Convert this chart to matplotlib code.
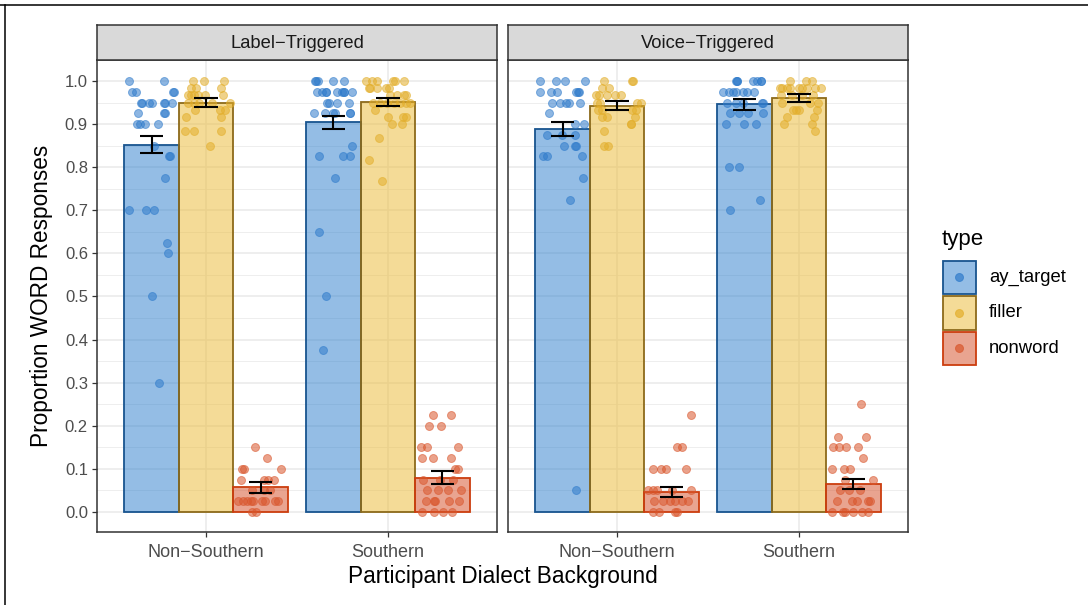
import matplotlib
matplotlib.use("Agg")
import matplotlib.pyplot as plt
from matplotlib.patches import Rectangle
from matplotlib.lines import Line2D

plt.rcParams['font.family'] = ['Liberation Sans', 'DejaVu Sans']

# ---------------------------------------------------------------- data
panels = ["Label−Triggered", "Voice−Triggered"]
dialects = ["Non−Southern", "Southern"]
types = ["ay_target", "filler", "nonword"]
y_ticks = [0.0, 0.1, 0.2, 0.3, 0.4, 0.5, 0.6, 0.7, 0.8, 0.9, 1.0]

# group means (ay_target, filler, nonword) and standard errors
label_ns_mean = [0.852, 0.950, 0.057]
label_ns_se = [0.0195, 0.010, 0.0128]
label_s_mean = [0.904, 0.952, 0.080]
label_s_se = [0.0155, 0.009, 0.014]
voice_ns_mean = [0.889, 0.943, 0.047]
voice_ns_se = [0.017, 0.0105, 0.0117]
voice_s_mean = [0.946, 0.960, 0.065]
voice_s_se = [0.0124, 0.0098, 0.0124]

# participant proportions as (value, horizontal jitter in x units)
label_ns_target = [
    (1.0, -0.126), (1.0, 0.068),
    (0.975, -0.106), (0.975, -0.087), (0.975, 0.122), (0.975, 0.118),
    (0.95, -0.058), (0.95, -0.053), (0.95, -0.014), (0.95, 0.002),
    (0.95, 0.070), (0.95, 0.074), (0.95, 0.111),
    (0.925, -0.073), (0.925, 0.074), (0.925, 0.071),
    (0.9, -0.082), (0.9, -0.064), (0.9, -0.035), (0.9, 0.037),
    (0.85, 0.013), (0.825, 0.101), (0.825, 0.098), (0.775, 0.072),
    (0.7, -0.126), (0.7, -0.031), (0.7, 0.015),
    (0.625, 0.086), (0.6, 0.089), (0.5, 0.001), (0.3, 0.041),
]
label_ns_filler = [
    (1.0, -0.074), (1.0, -0.010), (1.0, 0.100),
    (0.983, -0.085), (0.983, -0.056), (0.983, 0.084),
    (0.967, -0.101), (0.967, -0.083), (0.967, -0.065), (0.967, -0.046),
    (0.967, -0.006), (0.967, 0.091),
    (0.95, -0.101), (0.95, -0.067), (0.95, -0.039), (0.95, 0.031), (0.95, 0.131),
    (0.933, -0.061), (0.933, 0.078), (0.933, 0.104),
    (0.917, -0.112), (0.917, 0.080),
    (0.883, -0.116), (0.883, -0.068), (0.883, 0.080),
    (0.85, 0.020),
]
label_ns_nonword = [
    (0.15, -0.031), (0.125, 0.035),
    (0.1, -0.101), (0.1, -0.092), (0.1, 0.110),
    (0.075, -0.107), (0.075, 0.020), (0.075, 0.039), (0.075, 0.075),
    (0.05, -0.050), (0.05, 0.020), (0.05, 0.051),
    (0.025, -0.127), (0.025, -0.096), (0.025, -0.077), (0.025, -0.055),
    (0.025, -0.041), (0.025, 0.006), (0.025, 0.024), (0.025, 0.079),
    (0.025, 0.097),
    (0.0, -0.050), (0.0, -0.028),
]
label_s_target = [
    (1.0, -0.101), (1.0, -0.098), (1.0, -0.083), (1.0, 0.0), (1.0, 0.060),
    (0.975, -0.089), (0.975, -0.064), (0.975, -0.041), (0.975, -0.038),
    (0.975, 0.018), (0.975, 0.046), (0.975, 0.060), (0.975, 0.057),
    (0.975, 0.101),
    (0.95, -0.037), (0.95, -0.024), (0.95, 0.018), (0.95, 0.086),
    (0.925, -0.105), (0.925, -0.046), (0.925, -0.004), (0.925, 0.009),
    (0.925, 0.091), (0.925, 0.094),
    (0.85, 0.104),
    (0.825, -0.079), (0.825, 0.054), (0.825, 0.093),
    (0.775, 0.009), (0.65, -0.079), (0.5, -0.041), (0.375, -0.056),
]
label_s_filler = [
    (1.0, -0.120), (1.0, -0.089), (1.0, -0.062), (1.0, 0.026), (1.0, 0.039),
    (1.0, 0.089),
    (0.983, -0.104), (0.983, -0.101), (0.983, -0.062), (0.983, -0.010),
    (0.983, 0.008),
    (0.967, 0.012), (0.967, 0.048), (0.967, 0.089), (0.967, 0.100),
    (0.95, -0.080), (0.95, -0.043), (0.95, -0.007), (0.95, 0.035),
    (0.95, 0.067), (0.95, 0.100), (0.95, 0.122),
    (0.933, -0.069),
    (0.917, 0.002), (0.917, 0.085), (0.917, 0.100),
    (0.9, 0.021), (0.9, 0.076),
    (0.867, -0.047), (0.817, -0.102), (0.767, -0.034),
]
label_s_nonword = [
    (0.225, -0.051), (0.225, 0.047),
    (0.2, -0.074), (0.2, -0.010),
    (0.15, -0.120), (0.15, -0.084), (0.15, 0.084),
    (0.125, -0.111), (0.125, -0.051), (0.125, 0.047),
    (0.1, 0.069), (0.1, 0.087),
    (0.075, -0.106), (0.075, -0.014), (0.075, 0.059),
    (0.05, -0.087), (0.05, -0.023), (0.05, 0.032), (0.05, 0.102),
    (0.025, -0.092), (0.025, -0.041), (0.025, -0.044), (0.025, 0.037),
    (0.025, 0.091),
    (0.0, -0.111), (0.0, -0.047), (0.0, 0.004), (0.0, 0.054),
]
voice_ns_target = [
    (1.0, -0.126), (1.0, -0.036), (1.0, 0.012), (1.0, 0.122),
    (0.975, -0.126), (0.975, -0.064), (0.975, -0.031), (0.975, 0.074),
    (0.975, 0.086), (0.975, 0.089),
    (0.95, -0.057), (0.95, -0.014), (0.95, 0.017), (0.95, 0.035), (0.95, 0.097),
    (0.925, -0.073),
    (0.9, 0.068), (0.9, 0.119),
    (0.875, -0.086), (0.875, -0.005), (0.875, 0.070),
    (0.85, 0.006), (0.85, 0.068), (0.85, 0.074),
    (0.825, -0.106), (0.825, -0.087), (0.825, 0.107),
    (0.775, 0.111), (0.725, 0.041), (0.05, 0.074),
]
voice_ns_filler = [
    (1.0, -0.072), (1.0, 0.080), (1.0, 0.086),
    (0.983, -0.085), (0.983, -0.043),
    (0.967, -0.118), (0.967, -0.100), (0.967, -0.057), (0.967, -0.012),
    (0.967, 0.020),
    (0.95, -0.112), (0.95, -0.094), (0.95, 0.108), (0.95, 0.131),
    (0.933, -0.103), (0.933, -0.085), (0.933, 0.084), (0.933, 0.104),
    (0.917, -0.081), (0.917, -0.057), (0.917, 0.098),
    (0.9, 0.076), (0.9, 0.078),
    (0.883, -0.070),
    (0.85, -0.072), (0.85, -0.048),
]
voice_ns_nonword = [
    (0.225, 0.106),
    (0.15, 0.028), (0.15, 0.055),
    (0.1, -0.105), (0.1, -0.059), (0.1, -0.031), (0.1, 0.079),
    (0.05, -0.130), (0.05, -0.103), (0.05, -0.083), (0.05, 0.0), (0.05, 0.105),
    (0.025, -0.097), (0.025, -0.048), (0.025, -0.009), (0.025, 0.018),
    (0.025, 0.055), (0.025, 0.091),
    (0.0, -0.103), (0.0, -0.070), (0.0, 0.018), (0.0, 0.028),
]
voice_s_target = [
    (1.0, -0.046), (1.0, -0.043), (1.0, -0.039), (1.0, 0.046), (1.0, 0.068),
    (1.0, 0.091), (1.0, 0.094),
    (0.975, -0.119), (0.975, -0.083), (0.975, -0.061), (0.975, -0.046),
    (0.975, -0.009), (0.975, 0.013), (0.975, 0.053),
    (0.95, -0.097), (0.95, -0.046), (0.95, -0.006), (0.95, 0.095), (0.95, 0.104),
    (0.925, -0.079), (0.925, -0.028), (0.925, 0.018), (0.925, 0.104),
    (0.9, -0.103), (0.9, -0.001), (0.9, 0.062),
    (0.8, -0.085), (0.8, -0.028), (0.725, 0.086), (0.7, -0.079),
]
voice_s_filler = [
    (1.0, -0.049), (1.0, 0.039), (1.0, 0.074),
    (0.983, -0.104), (0.983, -0.095), (0.983, -0.067), (0.983, -0.049),
    (0.983, 0.002), (0.983, 0.015), (0.983, 0.043), (0.983, 0.089),
    (0.983, 0.120),
    (0.967, -0.100), (0.967, -0.040), (0.967, 0.015), (0.967, 0.079),
    (0.95, -0.095), (0.95, 0.061), (0.95, 0.103),
    (0.933, -0.034), (0.933, -0.016), (0.933, 0.002), (0.933, 0.098),
    (0.917, -0.064), (0.917, 0.085),
    (0.9, -0.082), (0.9, 0.070),
    (0.883, 0.090),
]
voice_s_nonword = [
    (0.25, 0.043),
    (0.175, -0.084), (0.175, 0.069),
    (0.15, -0.111), (0.15, -0.078), (0.15, -0.041), (0.15, 0.026),
    (0.125, 0.054),
    (0.1, -0.120), (0.1, -0.052), (0.1, -0.019),
    (0.075, -0.047), (0.075, 0.106),
    (0.05, -0.074), (0.05, -0.025), (0.05, 0.036),
    (0.025, -0.092), (0.025, -0.010), (0.025, 0.018), (0.025, 0.081),
    (0.025, 0.091),
    (0.0, -0.120), (0.0, -0.056), (0.0, -0.047), (0.0, -0.001), (0.0, 0.045),
    (0.0, 0.081),
]

# ---------------------------------------------------------------- style
fill_colors = ["#2A7DCD", "#EBB931", "#D54B23"]
edge_colors = ["#18548F", "#8C6A1A", "#CC3D0E"]
point_colors = ["#2F7BCB", "#E3AE2A", "#D9562C"]
bar_alpha = 0.5
point_alpha = 0.55
point_size = 33
grid_color = "#EBEBEB"
dark = "#333333"

panel_data = [
    ([label_ns_mean, label_s_mean], [label_ns_se, label_s_se],
     [[label_ns_target, label_ns_filler, label_ns_nonword],
      [label_s_target, label_s_filler, label_s_nonword]]),
    ([voice_ns_mean, voice_s_mean], [voice_ns_se, voice_s_se],
     [[voice_ns_target, voice_ns_filler, voice_ns_nonword],
      [voice_s_target, voice_s_filler, voice_s_nonword]]),
]

W, H = 1088, 605
fig = plt.figure(figsize=(W / 100, H / 100), dpi=100)
fig.patch.set_facecolor("white")


def box(x0, y0, x1, y1):
    """Pixel box (top-left origin) to figure fraction rectangle."""
    return [x0 / W, 1 - y1 / H, (x1 - x0) / W, (y1 - y0) / H]


# thin outer frame along the top and left edges
fig.add_artist(Line2D([0, 1], [1 - 4.5 / H, 1 - 4.5 / H], color="black",
                      lw=1.1, transform=fig.transFigure))
fig.add_artist(Line2D([4.5 / W, 4.5 / W], [0, 1 - 4.5 / H], color="black",
                      lw=1.1, transform=fig.transFigure))

panel_x = [(97, 497), (508, 908)]
panel_top, panel_bottom, strip_top = 60, 532, 25
dodge = 0.3

for p, (x0, x1) in enumerate(panel_x):
    ax = fig.add_axes(box(x0, panel_top, x1, panel_bottom))
    ax.set_xlim(0.4, 2.6)
    ax.set_ylim(-0.0464, 1.0487)
    ax.set_facecolor("white")

    # grid
    for v in [0.05 + 0.1 * i for i in range(10)]:
        ax.axhline(v, color=grid_color, lw=0.6, zorder=0)
    for v in y_ticks:
        ax.axhline(v, color=grid_color, lw=1.2, zorder=0)
    for xv in (1, 2):
        ax.axvline(xv, color=grid_color, lw=1.2, zorder=0)

    means, ses, pts = panel_data[p]
    for d in range(len(dialects)):
        for t in range(len(types)):
            xc = d + 1 + (t - 1) * dodge
            ax.bar(xc, means[d][t], width=dodge, color=fill_colors[t],
                   alpha=bar_alpha, zorder=2, lw=0)
            ax.bar(xc, means[d][t], width=dodge, facecolor="none",
                   edgecolor=edge_colors[t], lw=1.3, zorder=2.5)
            vals = [v for v, _ in pts[d][t]]
            xs = [xc + dx for _, dx in pts[d][t]]
            ax.scatter(xs, vals, s=point_size, facecolor=point_colors[t],
                       edgecolor=point_colors[t], linewidths=0.7,
                       alpha=point_alpha, zorder=3)
            m, se = means[d][t], ses[d][t]
            ax.vlines(xc, m - se, m + se, color="black", lw=1.5, zorder=4)
            ax.hlines([m - se, m + se], xc - 0.065, xc + 0.065,
                      color="black", lw=1.5, zorder=4)

    ax.set_xticks([1, 2])
    ax.set_xticklabels(dialects, fontsize=13, color="#4D4D4D")
    ax.set_yticks(y_ticks)
    if p == 0:
        ax.set_yticklabels([f"{v:.1f}" for v in y_ticks], fontsize=12,
                           color="#4D4D4D")
        ax.tick_params(axis="y", length=3.5, width=0.9, color=dark, pad=3)
    else:
        ax.tick_params(axis="y", length=0, labelleft=False)
    ax.tick_params(axis="x", length=3.5, width=0.9, color=dark, pad=5)
    for s in ax.spines.values():
        s.set_color(dark)
        s.set_linewidth(1.1)

    # facet strip
    sax = fig.add_axes(box(x0, strip_top, x1, panel_top))
    sax.set_facecolor("#D9D9D9")
    sax.set_xticks([])
    sax.set_yticks([])
    for s in sax.spines.values():
        s.set_color(dark)
        s.set_linewidth(1.1)
    sax.text(0.5, 0.46, panels[p], ha="center", va="center", fontsize=13.2,
             color="#1A1A1A", transform=sax.transAxes)

fig.text((97 + 908) / 2 / W, 1 - 577 / H, "Participant Dialect Background",
         ha="center", va="center", fontsize=16.3, color="black")
fig.text(42 / W, 1 - 296 / H, "Proportion WORD Responses", ha="center",
         va="center", rotation=90, fontsize=16.3, color="black")

# legend
lax = fig.add_axes(box(930, 220, 1088, 380))
lax.set_xlim(930, 1088)
lax.set_ylim(380, 220)
lax.axis("off")
lax.text(942, 240, "type", ha="left", va="center", fontsize=16,
         color="black")
key_tops = [260, 295.5, 331]
for t, name in enumerate(types):
    yt = key_tops[t]
    lax.add_patch(Rectangle((942.5, yt + 0.7), 33.5, 33.5,
                            facecolor=fill_colors[t], alpha=bar_alpha,
                            edgecolor="none"))
    lax.add_patch(Rectangle((942.5, yt + 0.7), 33.5, 33.5,
                            facecolor="none", edgecolor=edge_colors[t],
                            lw=1.3))
    lax.scatter([959.3], [yt + 17.4], s=point_size, facecolor=point_colors[t],
                edgecolor=point_colors[t], linewidths=0.7, alpha=0.7)
    lax.text(989, yt + 17.4, name, ha="left", va="center", fontsize=13.3,
             color="black")

fig.savefig("out.png", dpi=100)
